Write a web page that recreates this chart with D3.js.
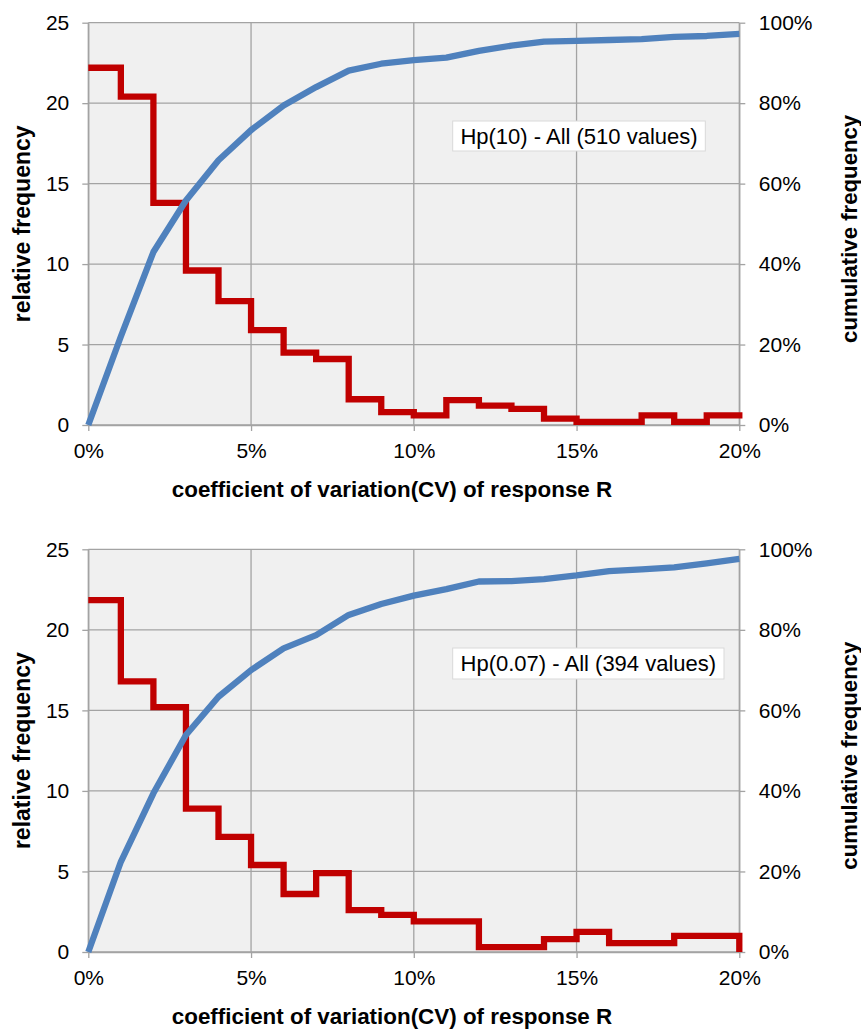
<!DOCTYPE html>
<html><head><meta charset="utf-8">
<script src="https://cdn.jsdelivr.net/npm/d3@7"></script>
<style>
body{margin:0;background:#fff}
svg{display:block}
text{font-family:"Liberation Sans",Arial,Helvetica,sans-serif;fill:#000}
</style>
</head><body>
<svg id="chart" width="861" height="1029"></svg>
<script>
// ---- data ----
const cvBins = [0,1,2,3,4,5,6,7,8,9,10,11,12,13,14,15,16,17,18,19,20]; // CV in %
const relFreqTop = [22.2,20.4,13.8,9.6,7.7,5.9,4.5,4.1,1.6,0.8,0.6,1.55,1.2,1.0,0.4,0.2,0.2,0.6,0.2,0.6,0.8];
const cumFreqTop = [0,22,43,55.8,65.8,73.3,79.4,84.0,88.1,89.8,90.7,91.3,93.0,94.3,95.3,95.5,95.7,95.9,96.5,96.7,97.2];
const relFreqBottom = [21.85,16.8,15.2,8.9,7.15,5.4,3.6,4.9,2.6,2.3,1.9,1.9,0.3,0.3,0.8,1.25,0.55,0.55,1.0,1.0,0];
const cumFreqBottom = [0,22.4,39.4,53.9,63.4,70.0,75.4,78.7,83.7,86.4,88.5,90.1,92.0,92.1,92.6,93.5,94.6,95.0,95.5,96.5,97.6];
const xTickValues = [0,5,10,15,20];
const xTickLabels = ["0%","5%","10%","15%","20%"];
const leftTickValues = [0,5,10,15,20,25];
const rightTickValues = [0,20,40,60,80,100];
const rightTickLabels = ["0%","20%","40%","60%","80%","100%"];
const annotTop = "Hp(10) - All (510 values)";
const annotBottom = "Hp(0.07) - All (394 values)";
const xTitle = "coefficient of variation(CV) of response R";
const leftTitle = "relative frequency";
const rightTitle = "cumulative frequency";

// ---- layout ----
const svg = d3.select("#chart");
svg.append("rect").attr("width",861).attr("height",1029).attr("fill","#fff");
const X0 = 88.3, X1 = 739.3;
const panels = [
  {top:22.7, bottom:425, rel:relFreqTop, cum:cumFreqTop, note:annotTop, box:[452.7,121,252.6,30]},
  {top:549.3, bottom:952, rel:relFreqBottom, cum:cumFreqBottom, note:annotBottom, box:[452.7,648,271.3,31]}
];
const gridColor = "#a3a3a3";

panels.forEach(p => {
  const x = d3.scaleLinear().domain([0,20]).range([X0,X1]);
  const yL = d3.scaleLinear().domain([0,25]).range([p.bottom,p.top]);
  const yR = d3.scaleLinear().domain([0,100]).range([p.bottom,p.top]);
  const g = svg.append("g");

  g.append("rect").attr("x",X0).attr("y",p.top).attr("width",X1-X0).attr("height",p.bottom-p.top).attr("fill","#f0f0f0");

  // gridlines
  g.selectAll(".hg").data(leftTickValues).enter().append("line")
    .attr("x1",X0).attr("x2",X1).attr("y1",d=>yL(d)).attr("y2",d=>yL(d))
    .attr("stroke",gridColor).attr("stroke-width",1.3);
  g.selectAll(".vg").data(xTickValues).enter().append("line")
    .attr("y1",p.top).attr("y2",p.bottom).attr("x1",d=>x(d)).attr("x2",d=>x(d))
    .attr("stroke",gridColor).attr("stroke-width",1.3);

  // axes
  const styleAxis = sel => {
    sel.selectAll("path.domain").attr("stroke",gridColor).attr("stroke-width",1.3);
    sel.selectAll(".tick line").attr("stroke",gridColor).attr("stroke-width",1.3);
    sel.selectAll("text").attr("font-size",21).attr("fill","#000")
      .style("font-family","'Liberation Sans',Arial,sans-serif");
  };
  g.append("g").attr("transform",`translate(${X0},0)`)
    .call(d3.axisLeft(yL).tickValues(leftTickValues).tickSize(6).tickSizeOuter(0).tickPadding(13))
    .call(styleAxis);
  g.append("g").attr("transform",`translate(${X1},0)`)
    .call(d3.axisRight(yR).tickValues(rightTickValues).tickFormat((d,i)=>rightTickLabels[i]).tickSize(6).tickSizeOuter(0).tickPadding(13.5))
    .call(styleAxis);
  g.append("g").attr("transform",`translate(0,${p.bottom})`)
    .call(d3.axisBottom(x).tickValues(xTickValues).tickFormat((d,i)=>xTickLabels[i]).tickSize(6).tickSizeOuter(0).tickPadding(12))
    .call(styleAxis);

  // series
  const relLine = d3.line().x((d,i)=>x(cvBins[i])).y(d=>yL(d)).curve(d3.curveStepAfter);
  const cumLine = d3.line().x((d,i)=>x(cvBins[i])).y(d=>yR(d));
  g.append("path").datum(p.rel).attr("d",relLine).attr("fill","none")
    .attr("stroke","#C00000").attr("stroke-width",6.3).attr("stroke-linejoin","miter");
  g.append("path").datum(p.cum).attr("d",cumLine).attr("fill","none")
    .attr("stroke","#4F81BD").attr("stroke-width",6.3).attr("stroke-linejoin","round");

  // annotation box
  const [bx,by,bw,bh] = p.box;
  g.append("rect").attr("x",bx).attr("y",by).attr("width",bw).attr("height",bh)
    .attr("fill","#fff").attr("stroke","#d9d9d9").attr("stroke-width",1);
  g.append("text").attr("x",bx+bw/2).attr("y",by+bh/2).attr("dy","0.35em")
    .attr("text-anchor","middle").attr("font-size",22).text(p.note);

  // titles
  g.append("text").attr("x",392).attr("y",p.bottom+72).attr("text-anchor","middle")
    .attr("font-size",22.4).attr("font-weight","bold").text(xTitle);
  const yc = (p.top+p.bottom)/2;
  g.append("text").attr("transform",`translate(22,${yc}) rotate(-90)`).attr("dy","0.35em")
    .attr("text-anchor","middle").attr("font-size",23).attr("font-weight","bold").text(leftTitle);
  g.append("text").attr("transform",`translate(849,${yc+5}) rotate(-90)`).attr("dy","0.35em")
    .attr("text-anchor","middle").attr("font-size",22.2).attr("font-weight","bold").text(rightTitle);
});
</script>
</body></html>
